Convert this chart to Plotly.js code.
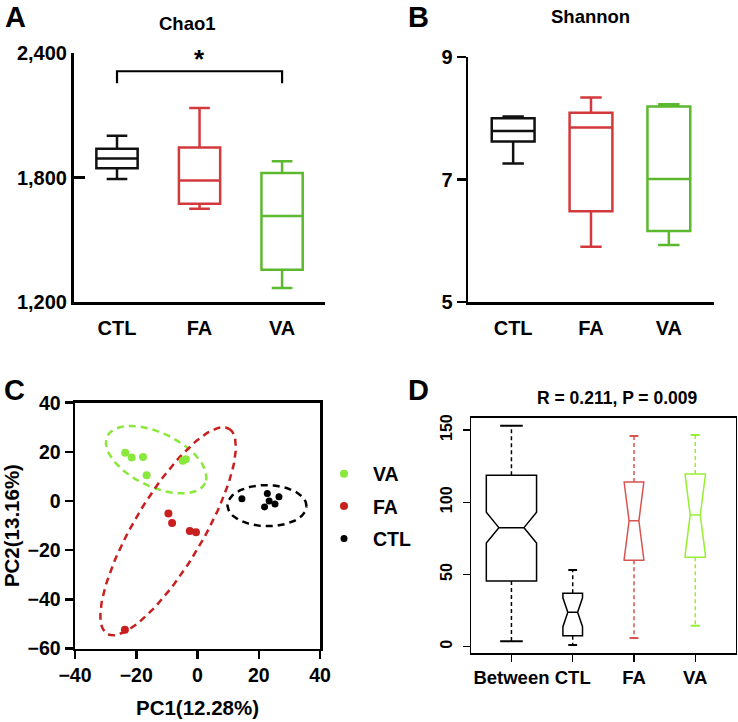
<!DOCTYPE html>
<html><head><meta charset="utf-8">
<script src="https://cdn.plot.ly/plotly-3.0.1.min.js"></script>
<style>html,body{margin:0;padding:0;background:#fff}#chart{width:738px;height:722px}</style>
</head><body><div id="chart"></div>
<script>
// ---------------- DATA ----------------
// Panel A: Chao1 (box summary per group)
const groups = ['CTL', 'FA', 'VA'];
const chaoMin = [1793, 1650, 1267];
const chaoQ1  = [1844, 1674, 1356];
const chaoMed = [1891, 1786, 1614];
const chaoQ3  = [1939, 1945, 1822];
const chaoMax = [2001, 2135, 1878];
// significance bracket CTL vs VA
const sigGroups = ['CTL', 'CTL', 'VA', 'VA'];
const sigY = [2254, 2312, 2312, 2254];
const sigLabel = '*';

// Panel B: Shannon
const shanMin = [7.26, 5.90, 5.93];
const shanQ1  = [7.62, 6.48, 6.16];
const shanMed = [7.79, 7.85, 7.01];
const shanQ3  = [8.00, 8.09, 8.19];
const shanMax = [8.03, 8.34, 8.23];

// Panel C: PCA scores
const vaPC1  = [-23.6, -21.5, -17.8, -16.6, -4.8, -3.8];
const vaPC2  = [19.6, 17.7, 17.9, 10.5, 16.4, 17.0];
const faPC1  = [-9.5, -8.3, -2.5, -0.5, -23.7];
const faPC2  = [-5.1, -8.9, -12.2, -12.7, -52.4];
const ctlPC1 = [14.5, 22.8, 23.4, 26.6, 25.3, 21.9];
const ctlPC2 = [0.9, 3.1, 0.0, 1.7, -1.2, -2.4];
// confidence ellipses: [centerX, centerY, axis1X, axis1Y, axis2X, axis2Y]
const vaEllipse  = [-13.5, 16.8, 15.97, -9.51, -3.78, -9.90];
const faEllipse  = [-9.6, -12.3, 19.9, 41.7, 9.65, -7.18];
const ctlEllipse = [22.7, -1.9, 12.9, -0.3, 0.2, 8.36];
const pcxTitle = 'PC1(12.28%)';
const pcyTitle = 'PC2(13.16%)';

// Panel D: ANOSIM distance ranks
const anosimGroups = ['Between', 'CTL', 'FA', 'VA'];
const anoLow   = [3.7, 1.2, 6.0, 14.5];
const anoQ1    = [45.5, 7.6, 59.8, 61.9];
const anoMed   = [82.4, 23.8, 87.1, 91.2];
const anoQ3    = [118.6, 37.0, 114.0, 119.5];
const anoHigh  = [153.0, 53.1, 145.8, 146.5];
const anoNotch = [10.7, 10.0, 26.5, 27.5];
const anosimTitle = 'R = 0.211, P = 0.009';

// ---------------- STYLE ----------------
const W = 738, H = 722;
const F = 'Liberation Sans, Arial, Helvetica, sans-serif';
const colAB = ['#111111', '#d2393c', '#5cb82e'];
const colC = {VA: '#8ae83a', FA: '#c8201e', CTL: '#000000'};
const colD = ['#000000', '#000000', '#d9534f', '#99ee33'];
const boxWidthD = [0.82, 0.32, 0.32, 0.33];
const px = (a, b) => [a / W, b / W];
const py = (top, bottom) => [1 - bottom / H, 1 - top / H];
const bold = (size, color) => ({family: F, size: size, color: color || '#000', weight: 700});

const traces = [];

// Panel A boxes
groups.forEach((g, i) => traces.push({
  type: 'box', xaxis: 'x', yaxis: 'y', x: [g],
  q1: [chaoQ1[i]], median: [chaoMed[i]], q3: [chaoQ3[i]],
  lowerfence: [chaoMin[i]], upperfence: [chaoMax[i]],
  width: 0.5, whiskerwidth: 0.5, boxpoints: false,
  line: {color: colAB[i], width: 2.5}, fillcolor: 'rgba(0,0,0,0)',
  showlegend: false, hoverinfo: 'skip'
}));
traces.push({type: 'scatter', mode: 'lines', xaxis: 'x', yaxis: 'y',
  x: sigGroups, y: sigY, line: {color: '#000', width: 2.2}, showlegend: false, hoverinfo: 'skip'});

// Panel B boxes
groups.forEach((g, i) => traces.push({
  type: 'box', xaxis: 'x2', yaxis: 'y2', x: [g],
  q1: [shanQ1[i]], median: [shanMed[i]], q3: [shanQ3[i]],
  lowerfence: [shanMin[i]], upperfence: [shanMax[i]],
  width: 0.55, whiskerwidth: 0.5, boxpoints: false,
  line: {color: colAB[i], width: 2.5}, fillcolor: 'rgba(0,0,0,0)',
  showlegend: false, hoverinfo: 'skip'
}));

// Panel C ellipses
function ellipse(e) {
  const xs = [], ys = [];
  for (let k = 0; k <= 120; k++) {
    const t = 2 * Math.PI * k / 120;
    xs.push(e[0] + e[2] * Math.cos(t) + e[4] * Math.sin(t));
    ys.push(e[1] + e[3] * Math.cos(t) + e[5] * Math.sin(t));
  }
  return [xs, ys];
}
[[vaEllipse, colC.VA], [faEllipse, colC.FA], [ctlEllipse, colC.CTL]].forEach(([e, c]) => {
  const [xs, ys] = ellipse(e);
  traces.push({type: 'scatter', mode: 'lines', xaxis: 'x3', yaxis: 'y3', x: xs, y: ys,
    line: {color: c, width: 2.5, dash: '7px,5px'}, showlegend: false, hoverinfo: 'skip', cliponaxis: false});
});
// Panel C points (legend order VA, FA, CTL)
traces.push({type: 'scatter', mode: 'markers', name: 'VA', legendgroup: 'g1', xaxis: 'x3', yaxis: 'y3',
  x: vaPC1, y: vaPC2, marker: {color: colC.VA, size: 8}});
traces.push({type: 'scatter', mode: 'markers', name: 'FA', legendgroup: 'g2', xaxis: 'x3', yaxis: 'y3',
  x: faPC1, y: faPC2, marker: {color: colC.FA, size: 8}});
traces.push({type: 'scatter', mode: 'markers', name: 'CTL', legendgroup: 'g3', xaxis: 'x3', yaxis: 'y3',
  x: ctlPC1, y: ctlPC2, marker: {color: colC.CTL, size: 7}});

// Panel D notched boxes with dashed whiskers
anosimGroups.forEach((g, i) => {
  const c = colD[i], w = boxWidthD[i], cap = 0.45 * w / 2;
  traces.push({type: 'scatter', mode: 'lines', xaxis: 'x4', yaxis: 'y4',
    x: [i, i, null, i, i], y: [anoQ3[i], anoHigh[i], null, anoQ1[i], anoLow[i]],
    line: {color: c, width: 1.5, dash: '4px,3px'}, showlegend: false, hoverinfo: 'skip'});
  traces.push({type: 'scatter', mode: 'lines', xaxis: 'x4', yaxis: 'y4',
    x: [i - cap, i + cap, null, i - cap, i + cap], y: [anoHigh[i], anoHigh[i], null, anoLow[i], anoLow[i]],
    line: {color: c, width: 2}, showlegend: false, hoverinfo: 'skip'});
  traces.push({type: 'box', xaxis: 'x4', yaxis: 'y4', x: [i],
    q1: [anoQ1[i]], median: [anoMed[i]], q3: [anoQ3[i]],
    lowerfence: [anoQ1[i]], upperfence: [anoQ3[i]],
    notched: true, notchspan: [anoNotch[i]], notchwidth: 0.25,
    width: w, whiskerwidth: 0, boxpoints: false,
    line: {color: c, width: 1.5}, fillcolor: 'rgba(255,255,255,0)',
    showlegend: false, hoverinfo: 'skip'});
});

const ann = (text, x, y, size) => ({text: text, x: x / W, y: 1 - y / H, xref: 'paper', yref: 'paper',
  xanchor: 'center', yanchor: 'middle', showarrow: false, font: bold(size)});

const layout = {
  width: W, height: H, margin: {l: 0, r: 0, t: 0, b: 0},
  paper_bgcolor: '#fff', plot_bgcolor: 'rgba(0,0,0,0)',
  font: {family: F, color: '#000'},
  showlegend: true,
  legend: {x: 315 / W, xanchor: 'left', y: 1 - 454.5 / H, yanchor: 'top',
    font: bold(19.5), itemwidth: 48, tracegroupgap: 4, traceorder: 'grouped',
    bgcolor: 'rgba(0,0,0,0)'},
  // Panel A
  xaxis: {domain: px(73.5, 325), range: [-0.527, 2.52], type: 'category', categoryarray: groups,
    showline: true, linewidth: 2.5, linecolor: '#000', ticks: '', showgrid: false, zeroline: false,
    tickfont: bold(20), ticklabelstandoff: 6, fixedrange: true},
  yaxis: {domain: py(53, 302), range: [1200, 2400], tick0: 1200, dtick: 600, tickformat: ',d',
    showline: true, linewidth: 2.5, linecolor: '#000', ticks: 'inside', ticklen: 11, tickwidth: 2.5,
    tickcolor: '#000', showgrid: false, zeroline: false, tickfont: bold(20), fixedrange: true},
  // Panel B
  xaxis2: {domain: px(468, 714), range: [-0.58, 2.58], type: 'category', categoryarray: groups,
    anchor: 'y2', showline: true, linewidth: 2.5, linecolor: '#000', ticks: '', showgrid: false,
    zeroline: false, tickfont: bold(20), ticklabelstandoff: 6},
  yaxis2: {domain: py(57, 302), range: [5, 9], dtick: 2, tick0: 5, anchor: 'x2',
    showline: true, linewidth: 2.5, linecolor: '#000', ticks: 'outside', ticklen: 9, tickwidth: 2.5,
    tickcolor: '#000', showgrid: false, zeroline: false, tickfont: bold(20)},
  // Panel C
  xaxis3: {domain: px(75, 320), range: [-40, 40], dtick: 20, anchor: 'y3',
    showline: true, mirror: true, linewidth: 2.5, linecolor: '#000', ticks: 'outside', ticklen: 8,
    tickwidth: 2.5, tickcolor: '#000', showgrid: false, zeroline: false, tickfont: bold(19.5),
    title: {text: pcxTitle, font: bold(20.5), standoff: 15}},
  yaxis3: {domain: py(402.7, 648.5), range: [-60, 40], dtick: 20, anchor: 'x3',
    showline: true, mirror: true, linewidth: 2.5, linecolor: '#000', ticks: 'outside', ticklen: 8,
    tickwidth: 2.5, tickcolor: '#000', showgrid: false, zeroline: false, tickfont: bold(19.5),
    title: {text: pcyTitle, font: bold(20.5), standoff: 3}},
  // Panel D
  xaxis4: {domain: px(471, 735.7), range: [-0.66, 3.66], anchor: 'y4',
    tickvals: [0, 1, 2, 3], ticktext: anosimGroups,
    showline: true, mirror: true, linewidth: 1.5, linecolor: '#000', ticks: 'outside', ticklen: 7,
    tickwidth: 1.2, tickcolor: '#000', showgrid: false, zeroline: false, tickfont: bold(18.5),
    ticklabelstandoff: 0},
  yaxis4: {domain: py(417.7, 653.3), range: [-4.6, 158.5], tickvals: [0, 50, 100, 150], anchor: 'x4',
    tickangle: -90, showline: true, mirror: true, linewidth: 1.5, linecolor: '#000',
    ticks: 'outside', ticklen: 7, tickwidth: 1.2, tickcolor: '#000', showgrid: false, zeroline: false,
    tickfont: bold(16), ticklabelstandoff: 4},
  annotations: [
    ann('A', 15, 17, 29), ann('B', 418, 17, 29), ann('C', 14.5, 390, 29), ann('D', 418, 390, 29),
    ann('Chao1', 187, 23, 18.5), ann('Shannon', 590, 17, 18.5),
    ann(anosimTitle, 617, 398, 17.5),
    {text: sigLabel, x: 'FA', y: Math.max(...sigY), xref: 'x', yref: 'y', showarrow: false,
      xanchor: 'center', yanchor: 'bottom', yshift: -5, font: bold(26)}
  ]
};

Plotly.newPlot('chart', traces, layout, {staticPlot: true, displayModeBar: false});
</script>
</body></html>
